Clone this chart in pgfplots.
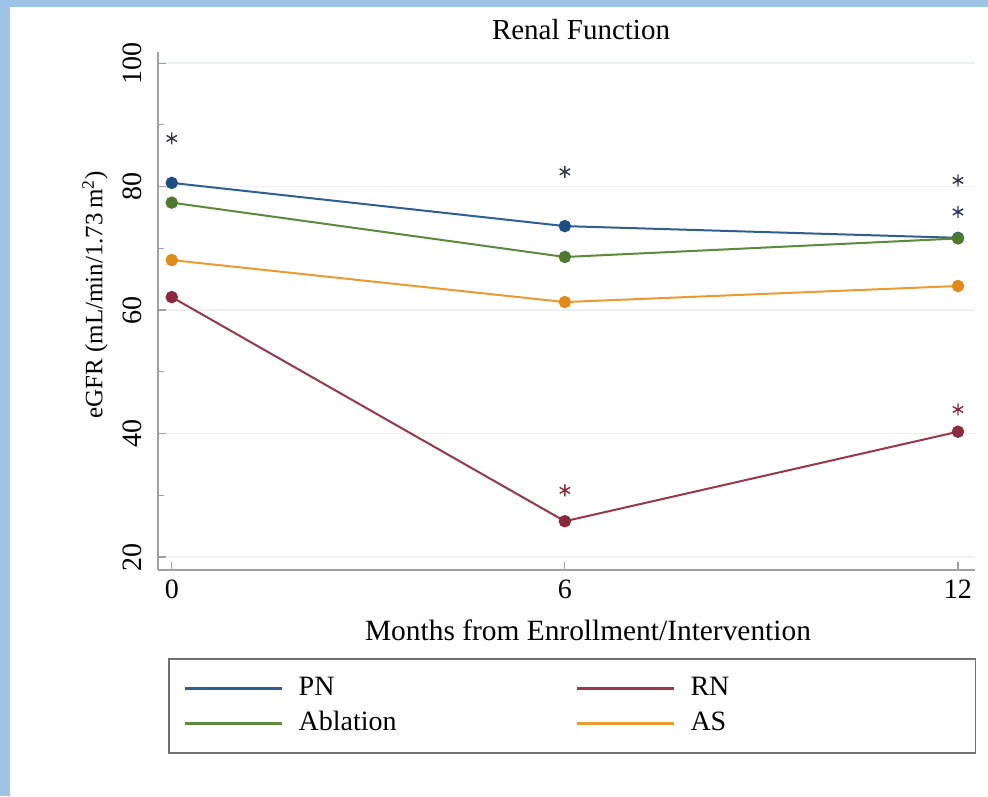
\documentclass[border=0pt]{standalone}
\usepackage{fontspec}
\setmainfont{Liberation Serif}
\usepackage{pgfplots}
\pgfplotsset{compat=1.18}
\definecolor{bluebd}{HTML}{9DC3E6}
\definecolor{pncol}{HTML}{2F5F92}
\definecolor{pnmk}{HTML}{1F4E85}
\definecolor{rncol}{HTML}{98364A}
\definecolor{rnmk}{HTML}{8A2A3C}
\definecolor{abcol}{HTML}{5A8A3A}
\definecolor{abmk}{HTML}{4E7A30}
\definecolor{ascol}{HTML}{EA9A30}
\definecolor{asmk}{HTML}{E38A1A}
\definecolor{axgray}{HTML}{A0A0A0}
\definecolor{gridcol}{HTML}{EEF1F4}
\definecolor{legcol}{HTML}{707070}
\definecolor{starcol}{HTML}{33364A}
\definecolor{starnavy}{HTML}{2A2F6A}
\begin{document}
\begin{tikzpicture}
\useasboundingbox (0,0) rectangle (494pt,-398pt);
\fill[white] (0,0) rectangle (494pt,-398pt);
\fill[bluebd] (0,0) rectangle (5pt,-398pt);
\fill[bluebd] (0,0) rectangle (494pt,-3.5pt);
\begin{axis}[
  at={(79pt,-285pt)}, anchor=south west,
  scale only axis, width=408.5pt, height=259pt,
  xmin=-0.21, xmax=12.26, ymin=17.9, ymax=101.8,
  axis x line*=bottom, axis y line*=left,
  axis line style={draw=axgray, line width=0.9pt, -},
  xtick={0,6,12}, ytick={20,40,60,80,100}, minor ytick={30,50,70,90},
  tick align=inside, major tick length=4pt, minor tick length=3pt,
  tick style={axgray, line width=0.6pt},
  ymajorgrids, grid style={gridcol, line width=0.8pt},
  tick label style={font=\fontsize{14}{16}\selectfont},
  /pgf/number format/assume math mode=true,
  yticklabel style={xshift=-8pt, rotate=90, anchor=south, inner sep=0pt},
  xticklabel style={yshift=-1.5pt},
  clip=false,
  legend columns=2,
  legend cell align=left,
  legend image code/.code={\draw[#1, line width=1.4pt] (0pt,0pt) -- (48.5pt,0pt);},
  legend style={at={(0.01224,-0.170)}, anchor=north west, draw=legcol, line width=0.9pt,
    inner xsep=7.5pt, inner ysep=8.5pt, font=\fontsize{14}{16}\selectfont,
    nodes={inner sep=0pt, text height=10pt, text depth=2.5pt, text width=135pt, align=left},
    /tikz/every odd column/.append style={column sep=7.5pt},
    /tikz/every even column/.append style={column sep=3.5pt},
    row sep=5pt},
]
\addplot[pncol, line width=1pt, mark=*, mark size=2.6pt, mark options={fill=pnmk, draw=pnmk}]
  coordinates {(0,80.6) (6,73.6) (12,71.7)};
\addlegendentry{PN}
\addplot[rncol, line width=1pt, mark=*, mark size=2.6pt, mark options={fill=rnmk, draw=rnmk}]
  coordinates {(0,62.1) (6,25.8) (12,40.3)};
\addlegendentry{RN}
\addplot[abcol, line width=1pt, mark=*, mark size=2.6pt, mark options={fill=abmk, draw=abmk}]
  coordinates {(0,77.4) (6,68.6) (12,71.6)};
\addlegendentry{Ablation}
\addplot[ascol, line width=1pt, mark=*, mark size=2.6pt, mark options={fill=asmk, draw=asmk}]
  coordinates {(0,68.1) (6,61.3) (12,63.9)};
\addlegendentry{AS}
\addplot[only marks, mark=asterisk, mark size=3pt, starcol, line width=0.7pt, forget plot]
  coordinates {(0,87.8) (6,82.4) (12,81.0)};
\addplot[only marks, mark=asterisk, mark size=3pt, starnavy, line width=0.7pt, forget plot]
  coordinates {(12,75.9)};
\addplot[only marks, mark=asterisk, mark size=3pt, rnmk, line width=0.7pt, forget plot]
  coordinates {(6,30.8) (12,43.9)};
\end{axis}
\node[font=\fontsize{14.5}{17}\selectfont] at (290.5pt,-15pt) {Renal Function};
\node[font=\fontsize{12.5}{15}\selectfont, rotate=90] at (47.5pt,-147.5pt) {eGFR (mL/min/1.73\,m\textsuperscript{2})};
\node[font=\fontsize{14.7}{17}\selectfont] at (294pt,-315pt) {Months from Enrollment/Intervention};
\end{tikzpicture}
\end{document}
